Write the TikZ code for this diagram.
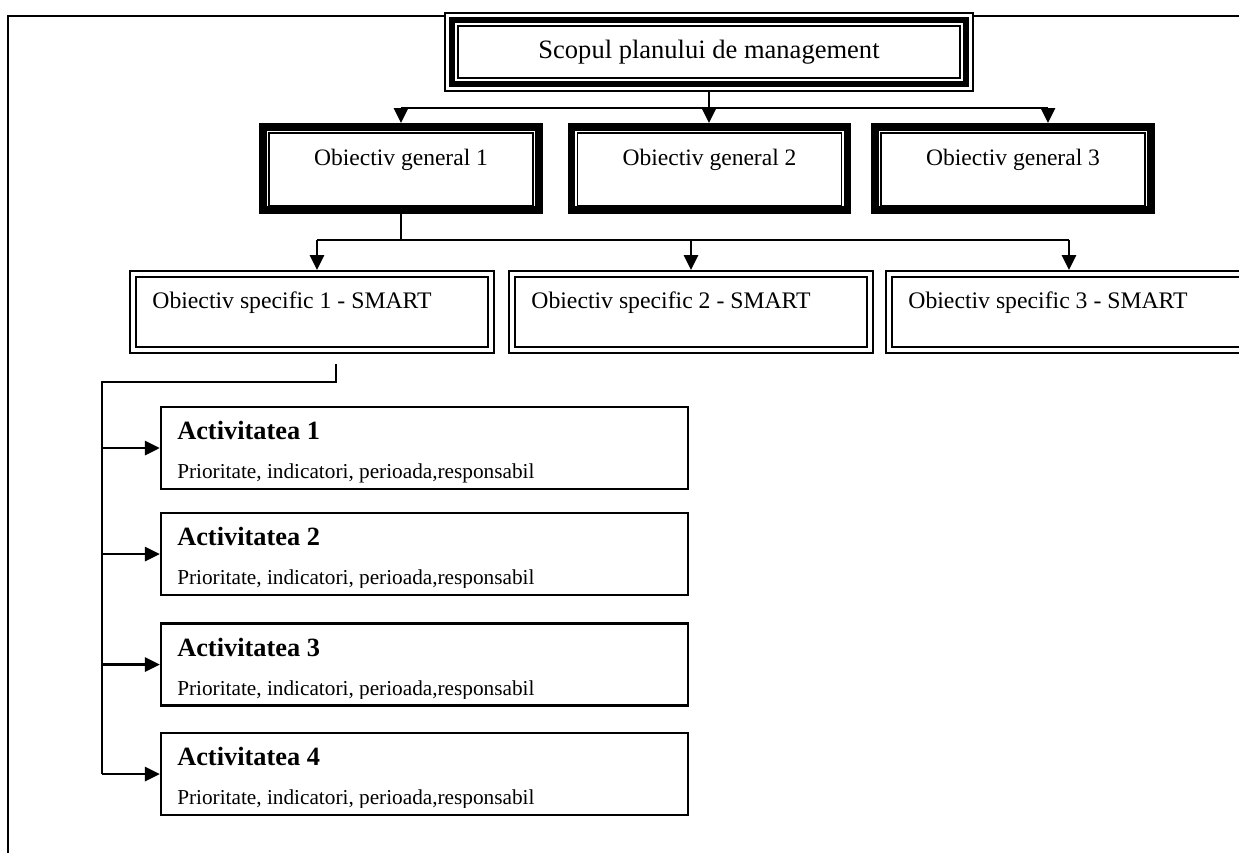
\documentclass[tikz,border=0pt]{standalone}
\usepackage{fontspec}
\setmainfont{Liberation Serif}
\usetikzlibrary{arrows.meta,positioning,calc}

\tikzset{
    frameline/.style={line width=1.1pt},
    conn/.style={line width=1.6pt, line join=miter},
    arr/.style={conn, -{Triangle[length=0.3cm,width=0.28cm]}},
    topbox/.style={draw, line width=0.85pt, fill=white, outer sep=0pt,
        minimum width=10.56cm, minimum height=1.56cm},
    genbox/.style={draw, line width=4.5pt, fill=white,
        minimum width=5.52cm, minimum height=1.66cm},
    specbox/.style={draw, double, line width=1.3pt, double distance=0.07cm,
        outer sep=0.08cm, minimum width=7.16cm, minimum height=1.52cm},
    actbox/.style={draw, line width=1.3pt,
        minimum width=10.54cm, minimum height=1.64cm},
    toptxt/.style={anchor=base, inner sep=0pt, font=\fontsize{15.1}{18}\selectfont},
    gentxt/.style={anchor=base, inner sep=0pt, font=\fontsize{13.4}{16}\selectfont},
    spectxt/.style={anchor=base west, inner sep=0pt, font=\fontsize{13.5}{16}\selectfont},
    acttxt/.style={anchor=base west, inner sep=0pt, font=\fontsize{15}{18}\selectfont\bfseries},
    infotxt/.style={anchor=base west, inner sep=0pt, font=\fontsize{12.1}{14}\selectfont}
}

\begin{document}
\begin{tikzpicture}[x=0.02cm, y=-0.02cm]
    \useasboundingbox (0,0) rectangle (1239,852);

    % page frame
    \draw[frameline] (8,870) -- (8,16) -- (1260,16);

    % scope of the plan
    \node[topbox] (scop) at (709,52) {};
    \draw[line width=3.4pt] ([shift={(7,7)}]scop.north west) rectangle ([shift={(-7,-7)}]scop.south east);
    \draw[line width=0.85pt] ([shift={(13,13)}]scop.north west) rectangle ([shift={(-13,-13)}]scop.south east);
    \node[toptxt] (scopt) at ($(scop.north)+(0,45)$) {Scopul planului de management};

    % general objectives
    \foreach \i/\x in {1/401, 2/709.5, 3/1013} {
        \node[genbox] (og\i) at (\x,168.5) {};
        \draw[line width=0.85pt] ([shift={(10,10)}]og\i.north west) rectangle ([shift={(-10,-8)}]og\i.south east);
        \node[gentxt] (og\i t) at ($(og\i.north)+(0,42)$) {Obiectiv general \i};
    }

    % specific objectives
    \foreach \i/\x in {1/312, 2/691, 3/1068} {
        \node[specbox] (sp\i) at (\x,312) {};
        \node[spectxt] (sp\i t) at ($(sp\i.north west)+(23,38)$) {Obiectiv specific \i\ - SMART};
    }

    % activities
    \foreach \i/\y/\cut in {1/448/10, 2/554/3, 3/664.5/3, 4/774/3} {
        \node[actbox] (act\i) at (424.5,\y) {};
        \node[acttxt] (act\i t) at ($(act\i.north west)+(17,34)$) {Activitatea \i};
        \begin{scope}
            \clip (act\i.north west) rectangle ($(act\i.north east)+(0,73+\cut)$);
            \node[infotxt] (act\i i) at ($(act\i.north west)+(17,73)$) {Prioritate, indicatori, perioada,responsabil};
        \end{scope}
    }

    % scope -> general objectives
    \coordinate (b1l) at (401,108);
    \coordinate (b1r) at (1048,108);
    \draw[conn] (b1l) -- (b1r);
    \draw[arr] (scop.south) -- (scop.south |- og2.north);
    \draw[arr] (b1l) -- (b1l |- og1.north);
    \draw[arr] (b1r) -- (b1r |- og3.north);

    % general objective 1 -> specific objectives
    \coordinate (b2l) at (317,240);
    \coordinate (b2r) at (1069,240);
    \draw[conn] (og1.south) -- (og1.south |- b2l);
    \draw[conn] (b2l) -- (b2r);
    \draw[arr] (b2l) -- (b2l |- sp1.north);
    \draw[arr] (b2l -| sp2.north) -- (sp2.north);
    \draw[arr] (b2r) -- (b2r |- sp3.north);

    % specific objective 1 -> activities
    \coordinate (b3t) at ($(sp1.south)+(24,10)$);
    \coordinate (b3l) at (102,382);
    \draw[conn] (b3t) |- (b3l) -- (b3l |- act4.west);
    \foreach \i in {1,...,4}
        \draw[arr] (b3l |- act\i.west) -- (act\i.west);
\end{tikzpicture}
\end{document}
